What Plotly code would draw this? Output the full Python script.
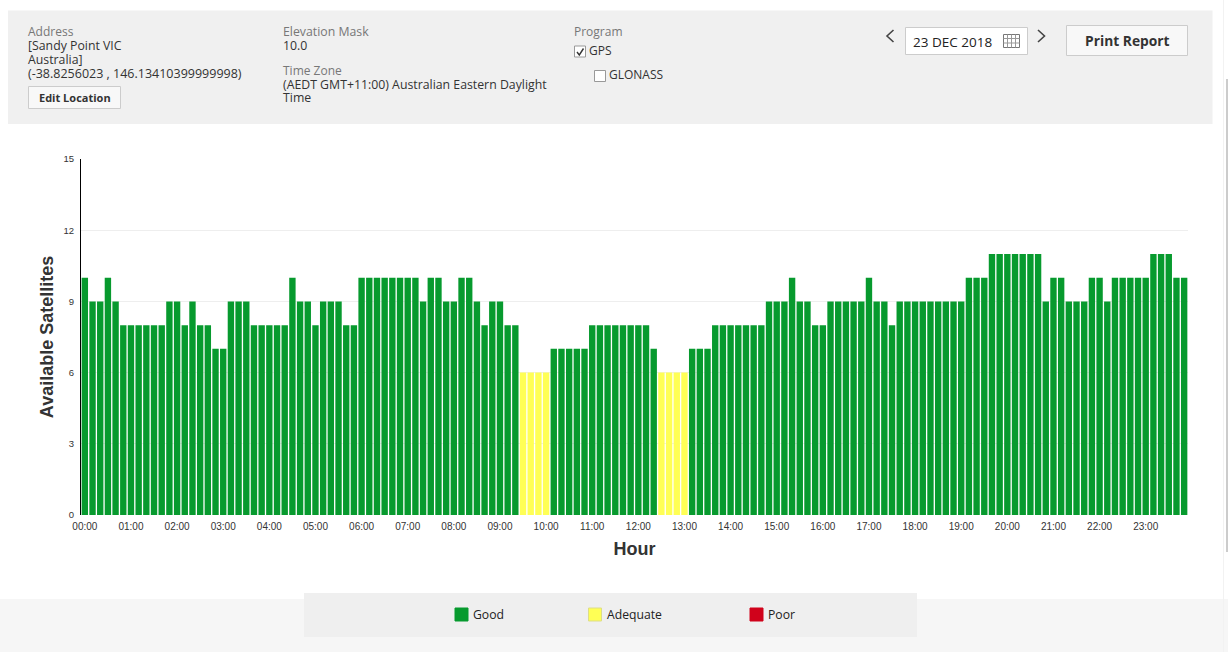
import plotly.graph_objects as go

hours = [f"{h:02d}:{m:02d}" for h in range(24) for m in range(0, 60, 10)]
hour_ticks = [f"{h:02d}:00" for h in range(24)]
satellites = [
    10, 9, 9, 10, 9, 8, 8, 8, 8, 8, 8, 9, 9, 8, 9, 8, 8, 7, 7, 9, 9, 9, 8, 8,
    8, 8, 8, 10, 9, 9, 8, 9, 9, 9, 8, 8, 10, 10, 10, 10, 10, 10, 10, 10, 9, 10, 10, 9,
    9, 10, 10, 9, 8, 9, 9, 8, 8, 6, 6, 6, 6, 7, 7, 7, 7, 7, 8, 8, 8, 8, 8, 8,
    8, 8, 7, 6, 6, 6, 6, 7, 7, 7, 8, 8, 8, 8, 8, 8, 8, 9, 9, 9, 10, 9, 9, 8,
    8, 9, 9, 9, 9, 9, 10, 9, 9, 8, 9, 9, 9, 9, 9, 9, 9, 9, 9, 10, 10, 10,
    11, 11, 11, 11, 11, 11, 11, 9, 10, 10, 9, 9, 9, 10, 10, 9, 10, 10, 10, 10, 10, 11, 11, 11,
    10, 10,
]
adequate_max = 6
poor_max = 3
GREEN, YELLOW, RED = "#079a2e", "#ffff55", "#d0021b"

W, H = 1228, 652
LEFT, RIGHT, TOP, BOTTOM = 81, 1188, 159, 515


def status(v):
    return "Poor" if v <= poor_max else "Adequate" if v <= adequate_max else "Good"


fig = go.Figure()
for name, colour in [("Good", GREEN), ("Adequate", YELLOW), ("Poor", RED)]:
    fig.add_bar(
        name=name,
        x=hours,
        y=[v if status(v) == name else None for v in satellites],
        marker=dict(color=colour, line_width=0),
        showlegend=False,
    )

shapes = []
notes = []


def px(x):
    return (x - LEFT) / (RIGHT - LEFT)


def py(y):
    return (BOTTOM - y) / (BOTTOM - TOP)


def rect(x0, y0, x1, y1, fill, line=None, layer="below", width=1):
    shapes.append(dict(
        type="rect", xref="paper", yref="paper", layer=layer,
        x0=px(x0), x1=px(x1), y0=py(y0), y1=py(y1), fillcolor=fill,
        line=dict(color=line or fill, width=width if line else 0),
    ))


def seg(pts, colour, width=1.5):
    path = "M " + " L ".join(f"{px(a)},{py(b)}" for a, b in pts)
    shapes.append(dict(type="path", xref="paper", yref="paper", layer="above",
                       path=path, line=dict(color=colour, width=width)))


def text(x, y, s, size=12.3, colour="#333333", bold=False, family="Open Sans", anchor="left"):
    notes.append(dict(
        xref="paper", yref="paper", x=px(x), y=py(y), text=f"<b>{s}</b>" if bold else s,
        showarrow=False, xanchor=anchor, yanchor="middle", align=anchor,
        borderpad=0, borderwidth=0,
        font=dict(size=size, color=colour, family=family),
    ))


# page panels
rect(0, 599, W, H, "#f6f6f6")
rect(8, 10.5, 1212.5, 124, "#f0f0f0")
rect(304, 593, 917, 637, "#efefef")
seg([(1223.5, 0), (1223.5, H)], "#f2f2f2", 1)
seg([(1227, 79), (1227, 552)], "#bbbbbb", 1.5)

# header: location
text(28, 31.5, "Address", size=12, colour="#777777")
text(28, 45.5, "[Sandy Point VIC")
text(28, 59.5, "Australia]")
text(28, 73.5, "(-38.8256023 , 146.13410399999998)", size=12.5)
rect(28.5, 86.5, 120.5, 108.5, "#f8f8f8", "#cccccc", "above")
text(74.5, 98, "Edit Location", size=11, bold=True, anchor="center")

# header: mask and zone
text(283, 31.5, "Elevation Mask", colour="#777777")
text(283, 45.5, "10.0")
text(283, 70, "Time Zone", size=12, colour="#777777")
text(283, 84, "(AEDT GMT+11:00) Australian Eastern Daylight")
text(283, 98, "Time")

# header: program
text(574, 31.5, "Program", size=12, colour="#777777")
rect(574.5, 46, 585.5, 57, "#ffffff", "#999999", "above")
seg([(577, 52), (579.3, 55), (583.5, 48.5)], "#333333", 1.4)
text(589, 50.5, "GPS", size=12)
rect(594.5, 70.5, 605.5, 81.5, "#ffffff", "#999999", "above")
text(609, 74.5, "GLONASS", size=12)

# header: date controls
seg([(893.5, 30), (887, 36), (893.5, 42)], "#444444", 1.6)
seg([(1038, 30), (1044.5, 36), (1038, 42)], "#444444", 1.6)
rect(905.5, 27.5, 1027.5, 54.5, "#ffffff", "#cccccc", "above")
text(913, 41.5, "23 DEC 2018", size=13.5, colour="#222222")
rect(1003.5, 34.5, 1019.5, 47.5, "#ffffff", "#777777", "above")
for gx in (1007.5, 1011.5, 1015.5):
    seg([(gx, 34.5), (gx, 47.5)], "#999999", 1)
for gy in (38.5, 43):
    seg([(1003.5, gy), (1019.5, gy)], "#999999", 1)
rect(1066.5, 25.5, 1187.5, 55.5, "#f8f8f8", "#cccccc", "above")
text(1127, 41, "Print Report", size=13.8, bold=True, anchor="center")

# legend key
for label, colour, sx, tx in [("Good", GREEN, 455, 473), ("Adequate", YELLOW, 588.5, 607), ("Poor", RED, 750, 768)]:
    rect(sx, 608, sx + 13, 621, colour, "#dddd88" if colour == YELLOW else colour, "above")
    text(tx, 614.5, label, size=12.2, colour="#222222")

fig.update_layout(
    width=W, height=H, autosize=False,
    margin=dict(l=LEFT, r=W - RIGHT, t=TOP, b=H - BOTTOM, pad=0),
    paper_bgcolor="#ffffff", plot_bgcolor="rgba(0,0,0,0)",
    barmode="overlay", bargap=0.17,
    shapes=shapes, annotations=notes,
    font=dict(family="Liberation Sans", color="#333333"),
    xaxis=dict(
        type="category", categoryorder="array", categoryarray=hours,
        range=[-0.5, len(hours) - 0.5],
        tickmode="array", tickvals=hour_ticks, ticktext=hour_ticks, tickangle=0,
        tickfont=dict(size=10, color="#333333"), ticks="outside", ticklen=2,
        tickcolor="rgba(0,0,0,0)", showgrid=False, zeroline=False,
        title=dict(text="<b>Hour</b>", font=dict(size=18, color="#333333"), standoff=11),
    ),
    yaxis=dict(
        range=[0, 15], tickvals=[0, 3, 6, 9, 12, 15],
        tickfont=dict(size=9.5, color="#333333"), ticks="outside", ticklen=4,
        tickcolor="rgba(0,0,0,0)", gridcolor="#eeeeee", gridwidth=1,
        showline=True, linecolor="#000000", linewidth=1, zeroline=False,
        title=dict(text="<b>Available Satellites</b>", font=dict(size=18, color="#333333"), standoff=5),
    ),
    hovermode=False,
)

fig.write_html("out.html", config=dict(displayModeBar=False),
               post_script="document.body.style.margin='0';document.body.style.overflow='hidden';")
